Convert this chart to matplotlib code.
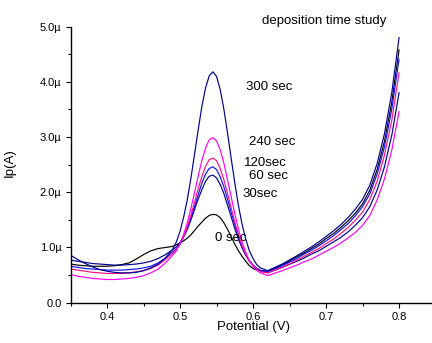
import matplotlib
matplotlib.use('Agg')
import matplotlib.pyplot as plt
from matplotlib.ticker import MultipleLocator

plt.rcParams['font.family'] = ['Liberation Sans', 'DejaVu Sans']

# Potential (V)
potential = [0.35, 0.36, 0.37, 0.38, 0.39, 0.40, 0.41, 0.42, 0.43, 0.44, 0.45, 0.46, 0.47, 0.48,
             0.49, 0.495, 0.50, 0.505, 0.51, 0.515, 0.52, 0.525, 0.53, 0.535, 0.54, 0.545,
             0.55, 0.555, 0.56, 0.565, 0.57, 0.575, 0.58, 0.585, 0.59, 0.595, 0.60, 0.605, 0.61,
             0.62, 0.64, 0.66, 0.67, 0.68, 0.69, 0.70, 0.71, 0.72, 0.73, 0.74, 0.75, 0.76,
             0.77, 0.78, 0.79, 0.80]

# current in microampere, one list per deposition time
ip_0s = [0.70, 0.68, 0.67, 0.66, 0.66, 0.66, 0.67, 0.69, 0.72, 0.79, 0.87, 0.94, 0.98, 1.00,
         1.02, 1.05, 1.08, 1.12, 1.17, 1.23, 1.31, 1.39, 1.46, 1.53, 1.58, 1.60,
         1.59, 1.54, 1.45, 1.33, 1.20, 1.06, 0.94, 0.84, 0.75, 0.67, 0.62, 0.59, 0.58,
         0.57, 0.68, 0.83, 0.90, 0.98, 1.06, 1.16, 1.25, 1.36, 1.48, 1.62, 1.79, 2.04,
         2.41, 2.92, 3.63, 4.58]
ip_30s = [0.77, 0.75, 0.73, 0.71, 0.70, 0.69, 0.68, 0.68, 0.69, 0.70, 0.72, 0.75, 0.80, 0.87,
          0.96, 1.01, 1.09, 1.20, 1.33, 1.50, 1.69, 1.88, 2.05, 2.20, 2.29, 2.31,
          2.26, 2.14, 1.98, 1.77, 1.56, 1.34, 1.15, 0.99, 0.86, 0.75, 0.68, 0.62, 0.59,
          0.54, 0.64, 0.75, 0.81, 0.88, 0.94, 1.02, 1.10, 1.18, 1.28, 1.40, 1.54, 1.74,
          2.04, 2.46, 3.03, 3.80]
ip_60s = [0.66, 0.64, 0.62, 0.61, 0.60, 0.59, 0.59, 0.59, 0.60, 0.61, 0.63, 0.66, 0.72, 0.81,
          0.92, 0.97, 1.06, 1.19, 1.34, 1.54, 1.75, 1.96, 2.17, 2.33, 2.43, 2.46,
          2.41, 2.28, 2.10, 1.88, 1.64, 1.41, 1.19, 1.01, 0.87, 0.76, 0.68, 0.62, 0.58,
          0.56, 0.67, 0.80, 0.88, 0.95, 1.03, 1.12, 1.21, 1.32, 1.43, 1.57, 1.74, 1.97,
          2.33, 2.82, 3.50, 4.41]
ip_120s = [0.61, 0.59, 0.57, 0.55, 0.54, 0.53, 0.53, 0.53, 0.54, 0.56, 0.58, 0.62, 0.68, 0.78,
           0.90, 0.96, 1.06, 1.20, 1.38, 1.59, 1.82, 2.07, 2.29, 2.47, 2.59, 2.62,
           2.57, 2.43, 2.23, 1.98, 1.72, 1.46, 1.23, 1.03, 0.88, 0.75, 0.67, 0.61, 0.56,
           0.54, 0.64, 0.77, 0.84, 0.91, 0.98, 1.07, 1.15, 1.25, 1.36, 1.49, 1.64, 1.87,
           2.20, 2.67, 3.30, 4.16]
ip_240s = [0.51, 0.48, 0.46, 0.44, 0.43, 0.42, 0.42, 0.43, 0.44, 0.46, 0.49, 0.54, 0.61, 0.72,
           0.86, 0.94, 1.07, 1.24, 1.45, 1.71, 2.00, 2.30, 2.58, 2.80, 2.95, 2.99,
           2.93, 2.77, 2.53, 2.23, 1.92, 1.61, 1.33, 1.10, 0.91, 0.76, 0.66, 0.59, 0.54,
           0.49, 0.58, 0.68, 0.74, 0.79, 0.86, 0.93, 1.00, 1.08, 1.17, 1.27, 1.40, 1.58,
           1.86, 2.24, 2.76, 3.46]
ip_300s = [0.86, 0.78, 0.71, 0.65, 0.60, 0.57, 0.55, 0.54, 0.54, 0.55, 0.58, 0.63, 0.70, 0.81,
           0.97, 1.10, 1.29, 1.55, 1.87, 2.26, 2.70, 3.14, 3.56, 3.89, 4.11, 4.18,
           4.10, 3.86, 3.51, 3.08, 2.62, 2.17, 1.76, 1.42, 1.15, 0.94, 0.80, 0.69, 0.63,
           0.58, 0.70, 0.85, 0.93, 1.01, 1.10, 1.20, 1.30, 1.41, 1.54, 1.69, 1.87, 2.13,
           2.52, 3.06, 3.80, 4.80]

series = [ip_0s, ip_30s, ip_60s, ip_120s, ip_240s, ip_300s]
colors = ['black', '#000090', '#1010FF', '#FF1080', '#FF00FF', '#000090']

yticks = [0, 1, 2, 3, 4, 5]
yticklabels = ['0.0', '1.0µ', '2.0µ', '3.0µ', '4.0µ', '5.0µ']
xticks = [0.4, 0.5, 0.6, 0.7, 0.8]
xticklabels = ['0.4', '0.5', '0.6', '0.7', '0.8']

fig = plt.figure(figsize=(4.32, 3.43), dpi=100)
ax = fig.add_axes([0.1632, 0.1175, 0.8366, 0.805])

for ys, c in zip(series, colors):
    ax.plot(potential, ys, color=c, lw=0.85)

ax.set_xlim(0.35, 0.845)
ax.set_ylim(0, 5)

ax.spines['top'].set_visible(False)
ax.spines['right'].set_visible(False)
ax.spines['left'].set_linewidth(1.0)
ax.spines['bottom'].set_linewidth(1.0)

ax.set_xticks(xticks)
ax.set_xticklabels(xticklabels)
ax.set_yticks(yticks)
ax.set_yticklabels(yticklabels)
ax.xaxis.set_minor_locator(MultipleLocator(0.05))
ax.yaxis.set_minor_locator(MultipleLocator(0.5))
ax.tick_params(which='major', direction='out', length=3.5, width=0.8, labelsize=8, pad=3)
ax.tick_params(which='minor', direction='out', length=2, width=0.8)

ax.set_xlabel('Potential (V)', fontsize=9.5)
ax.set_ylabel('Ip(A)', fontsize=9.5)
ax.xaxis.set_label_coords(0.506, -0.068)
ax.yaxis.set_label_coords(-0.151, 0.506)

# labels next to the peaks
ax.text(0.591, 3.91, '300 sec', fontsize=9.5, va='center')
ax.text(0.594, 2.915, '240 sec', fontsize=9.5, va='center')
ax.text(0.588, 2.534, '120sec', fontsize=9.5, va='center')
ax.text(0.594, 2.30, '60 sec', fontsize=9.5, va='center')
ax.text(0.586, 1.96, '30sec', fontsize=9.5, va='center')
ax.text(0.548, 1.166, '0 sec', fontsize=9.5, va='center')
ax.text(0.612, 5.105, 'deposition time study', fontsize=9.5, va='center')

fig.savefig('out.png', dpi=100)
